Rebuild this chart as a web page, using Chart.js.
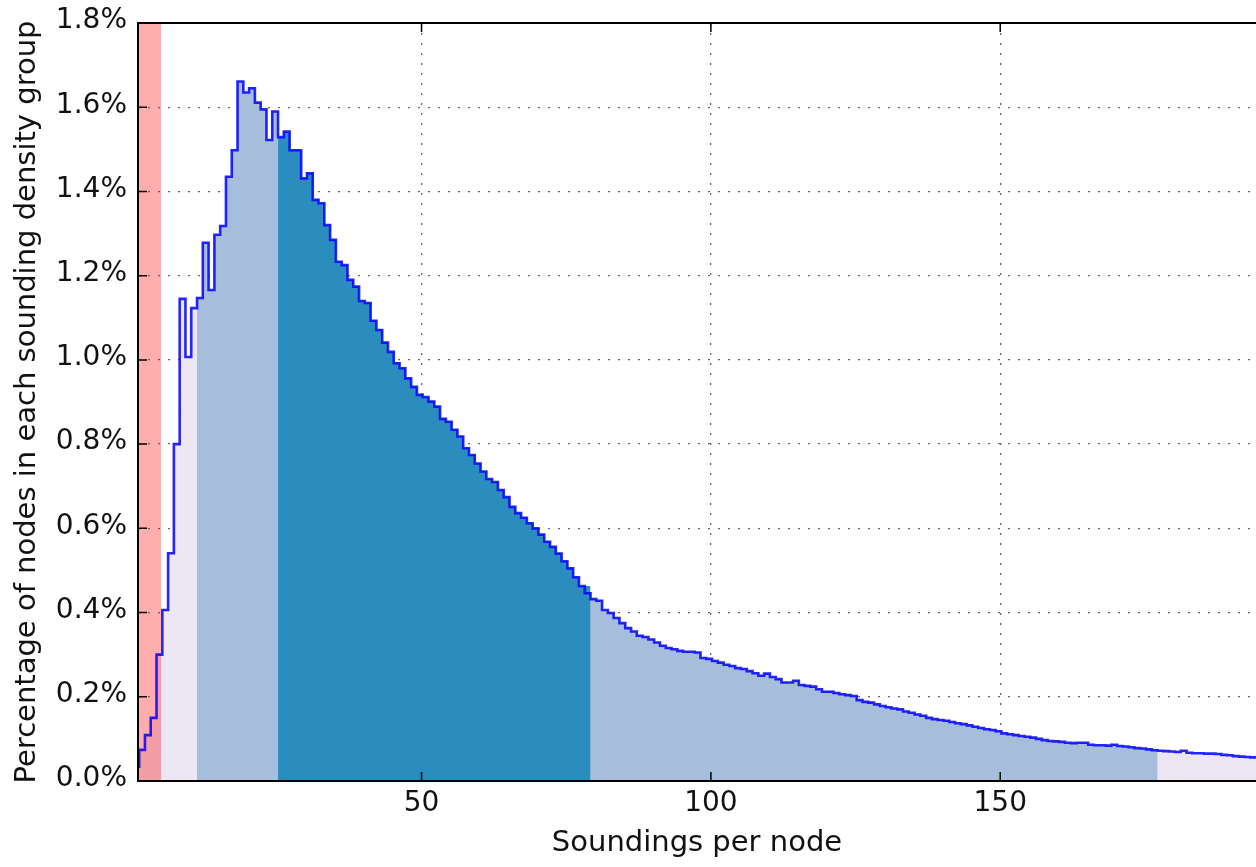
<!DOCTYPE html>
<html>
<head>
<meta charset="utf-8">
<title>Soundings per node</title>
<script src="https://cdn.jsdelivr.net/npm/chart.js@4.4.1/dist/chart.umd.min.js"></script>
<style>
  html, body { margin: 0; padding: 0; background: #fff; overflow: hidden; }
</style>
</head>
<body>
<canvas id="density" width="1256" height="867"></canvas>
<script>
// histogram of soundings per node, one bin per unit
var binStart = 1.2;
var binWidth = 1;
var pctNodes = [
  0.031, 0.074, 0.109, 0.150, 0.300, 0.406, 0.541, 0.800, 1.145, 1.007,
  1.123, 1.147, 1.278, 1.166, 1.297, 1.318, 1.435, 1.498, 1.661, 1.635,
  1.645, 1.611, 1.595, 1.522, 1.590, 1.529, 1.542, 1.498, 1.498, 1.431,
  1.443, 1.380, 1.372, 1.320, 1.285, 1.233, 1.225, 1.190, 1.174, 1.140,
  1.135, 1.093, 1.071, 1.041, 1.019, 0.992, 0.980, 0.956, 0.936, 0.917,
  0.912, 0.901, 0.889, 0.860, 0.853, 0.834, 0.818, 0.790, 0.774, 0.754,
  0.735, 0.717, 0.710, 0.691, 0.674, 0.651, 0.636, 0.625, 0.612, 0.600,
  0.585, 0.568, 0.556, 0.540, 0.522, 0.505, 0.484, 0.463, 0.446, 0.432,
  0.428, 0.406, 0.399, 0.387, 0.375, 0.363, 0.355, 0.345, 0.342, 0.336,
  0.329, 0.321, 0.316, 0.313, 0.309, 0.307, 0.307, 0.305, 0.292, 0.290,
  0.285, 0.281, 0.276, 0.273, 0.268, 0.266, 0.261, 0.256, 0.250, 0.255,
  0.247, 0.242, 0.234, 0.234, 0.238, 0.228, 0.226, 0.224, 0.218, 0.212,
  0.212, 0.209, 0.206, 0.204, 0.202, 0.192, 0.188, 0.186, 0.182, 0.178,
  0.175, 0.172, 0.170, 0.165, 0.162, 0.158, 0.155, 0.150, 0.147, 0.145,
  0.143, 0.140, 0.137, 0.135, 0.132, 0.129, 0.126, 0.123, 0.121, 0.118,
  0.113, 0.111, 0.109, 0.107, 0.105, 0.103, 0.100, 0.097, 0.095, 0.094,
  0.093, 0.091, 0.090, 0.091, 0.091, 0.086, 0.085, 0.085, 0.084, 0.086,
  0.083, 0.082, 0.080, 0.078, 0.077, 0.075, 0.073, 0.072, 0.071, 0.070,
  0.069, 0.072, 0.067, 0.066, 0.066, 0.065, 0.065, 0.064, 0.062, 0.061,
  0.059, 0.058, 0.057, 0.056
];

var xRange = [1, 194.2];
var xTicks = [50, 100, 150];
var yTicks = [0, 0.2, 0.4, 0.6, 0.8, 1.0, 1.2, 1.4, 1.6, 1.8];

var sparseEdge = 5;            // below this the node is flagged as too sparse
var outerBand = [11.2, 177.2];
var innerBand = [25.2, 79.2];

var FONT = 'DejaVu Sans';

// step points at the left edge of every bin, closed at the last right edge
function steps(vals) {
  var pts = vals.map(function (v, i) { return { x: binStart + i * binWidth, y: v }; });
  pts.push({ x: binStart + vals.length * binWidth, y: vals[vals.length - 1] });
  return pts;
}

// the bins lying inside [lo, hi), closed at hi
function slice(pts, band) {
  var out = pts.filter(function (p) { return p.x >= band[0] - 1e-9 && p.x < band[1] - 1e-9; });
  out.push({ x: band[1], y: out[out.length - 1].y });
  return out;
}

// spines on three sides + inward tick marks
var frame = {
  id: 'frame',
  afterDraw: function (chart) {
    var ctx = chart.ctx, a = chart.chartArea;
    var xs = chart.scales.x, ys = chart.scales.y;
    ctx.save();
    ctx.strokeStyle = '#000';
    ctx.lineWidth = 1.5;
    ctx.beginPath();
    xTicks.forEach(function (v) {
      var px = xs.getPixelForValue(v);
      ctx.moveTo(px, a.bottom); ctx.lineTo(px, a.bottom - 9);
      ctx.moveTo(px, a.top); ctx.lineTo(px, a.top + 9);
    });
    yTicks.forEach(function (v) {
      var py = ys.getPixelForValue(v);
      ctx.moveTo(a.left, py); ctx.lineTo(a.left + 9, py);
    });
    ctx.stroke();
    ctx.lineWidth = 2;
    ctx.beginPath();
    ctx.moveTo(a.right, a.top);
    ctx.lineTo(a.left, a.top);
    ctx.lineTo(a.left, a.bottom);
    ctx.lineTo(a.right, a.bottom);
    ctx.stroke();
    ctx.restore();
  }
};

var hist = steps(pctNodes);
var yTop = yTicks[yTicks.length - 1];

new Chart(document.getElementById('density'), {
  type: 'line',
  data: {
    datasets: [
      {
        data: hist, stepped: 'after', fill: 'origin', order: 5,
        backgroundColor: '#ece7f2', borderWidth: 0, pointRadius: 0
      },
      {
        data: slice(hist, outerBand), stepped: 'after', fill: 'origin', order: 4,
        backgroundColor: '#a6bddb', borderWidth: 0, pointRadius: 0
      },
      {
        data: slice(hist, innerBand), stepped: 'after', fill: 'origin', order: 3,
        backgroundColor: '#2b8cbe', borderWidth: 0, pointRadius: 0
      },
      {
        data: [{ x: xRange[0], y: yTop }, { x: sparseEdge, y: yTop }],
        fill: 'origin', order: 2,
        backgroundColor: 'rgba(255, 0, 0, 0.32)', borderWidth: 0, pointRadius: 0
      },
      {
        data: hist, stepped: 'after', fill: false, order: 1,
        borderColor: 'rgba(0, 0, 255, 0.85)', borderWidth: 2.6, pointRadius: 0
      }
    ]
  },
  options: {
    responsive: false,
    animation: false,
    layout: { padding: { top: 23, right: 0, bottom: 0, left: 0 } },
    plugins: { legend: { display: false }, tooltip: { enabled: false } },
    scales: {
      x: {
        type: 'linear',
        min: xRange[0],
        max: xRange[1],
        z: 1,
        afterBuildTicks: function (s) { s.ticks = xTicks.map(function (v) { return { value: v }; }); },
        afterFit: function (s) { s.height = 86; s.paddingLeft = 0; s.paddingRight = 0; },
        grid: { color: 'rgba(0,0,0,0.6)', lineWidth: 1.3, drawTicks: false },
        border: { display: false, dash: [2, 8] },
        ticks: {
          autoSkip: false, maxRotation: 0, padding: 6, color: '#111',
          font: { family: FONT, size: 28 },
          callback: function (v) { return String(v); }
        },
        title: {
          display: true, text: 'Soundings per node', color: '#111',
          font: { family: FONT, size: 29 }, padding: { top: 0, bottom: 6 }
        }
      },
      y: {
        min: yTicks[0],
        max: yTop,
        z: 1,
        afterBuildTicks: function (s) { s.ticks = yTicks.map(function (v) { return { value: v }; }); },
        afterFit: function (s) { s.width = 138; s.paddingTop = 0; s.paddingBottom = 0; },
        grid: { color: 'rgba(0,0,0,0.6)', lineWidth: 1.3, drawTicks: false },
        border: { display: false, dash: [2, 8] },
        ticks: {
          padding: 11, color: '#111', labelOffset: -2,
          font: { family: FONT, size: 28 },
          callback: function (v) { return v.toFixed(1) + '%'; }
        },
        title: {
          display: true, text: 'Percentage of nodes in each sounding density group', color: '#111',
          font: { family: FONT, size: 29 }, padding: { top: 10, bottom: 0 }
        }
      }
    }
  },
  plugins: [frame]
});
</script>
</body>
</html>
